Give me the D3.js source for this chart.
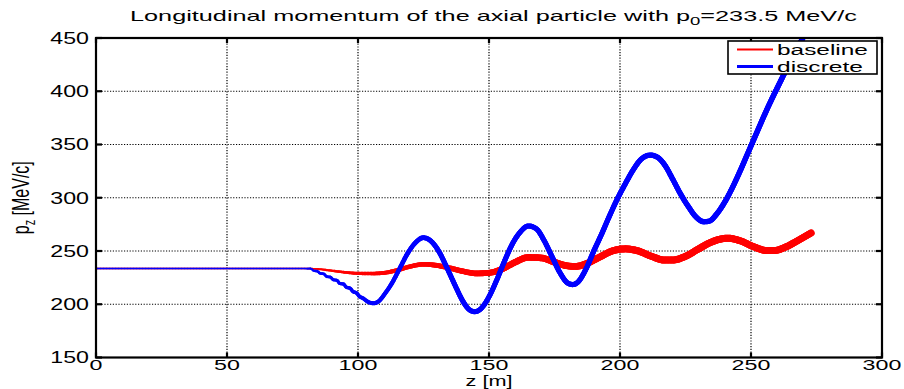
<!DOCTYPE html>
<html>
<head>
<meta charset="utf-8">
<script src="https://cdn.jsdelivr.net/npm/d3@7"></script>
<style>
  body { margin: 0; background: #fff; }
  text { font-family: "Liberation Sans", Arial, Helvetica, sans-serif; fill: #000; }
</style>
</head>
<body>
<svg id="chart" width="904" height="389"></svg>
<script>
// data: z [m] and p_z [MeV/c]
const baselineZ = [0, 80, 85, 90, 95, 100, 105, 110, 115, 120, 125, 130, 135, 140, 145, 150, 155, 160, 165, 170,
  175, 180, 183, 187, 192, 197, 202, 207, 212, 217, 220, 225, 230, 235, 241, 246, 251, 256, 259, 263, 268, 273];
const baselineP = [233.5, 233.5, 233, 231.5, 230, 229, 228.8, 229.5, 232, 235.5, 237.5, 236.5, 234, 231, 229, 229.5, 233, 239.5, 244, 243.5,
  239.5, 236, 235.5, 238, 244, 250, 252, 250, 245, 241.5, 241.5, 245, 252, 258.5, 262, 259.5, 254, 250.5, 250.5, 253.5, 260, 267];

const discreteZ = [0, 80, 82, 83, 84.5, 85.5, 87, 88, 89.5, 90.5, 92, 93, 94.5, 95.5, 97, 98, 99.5, 100.5, 102, 104,
  106, 108, 110, 113, 116, 119, 122, 125, 128, 131, 134, 137, 140, 142, 144.5, 147, 150, 153, 156, 159,
  162, 165, 168, 171, 174, 177, 180, 182, 184, 187, 190, 193, 196, 199, 202, 205, 208, 211.5, 214, 217,
  220, 223, 226, 229, 232, 234, 237, 240, 243, 246, 249, 252, 255, 258, 261, 264, 267, 270, 273];
const discreteP = [233.5, 233.5, 233.5, 231.5, 231, 229, 228.5, 226, 225.5, 223, 222.5, 219.5, 219, 216, 215, 212, 210.5, 207.5, 205.5, 202,
  201, 203, 209, 220, 234, 248, 258, 262.5, 259, 249, 234, 218, 203, 196, 193, 196, 207, 223, 241, 257,
  268, 273.5, 271, 260, 245, 230, 220, 218.5, 221, 233, 250, 266, 283, 299, 313, 326, 336, 340, 338.5, 331,
  318, 304, 292, 282, 277.5, 278, 285, 296, 310, 326, 343, 360, 377, 393, 408, 423, 437, 451, 465];

const xTicks = [0, 50, 100, 150, 200, 250, 300];
const yTicks = [150, 200, 250, 300, 350, 400, 450];
const seriesNames = ["baseline", "discrete"];
const seriesColors = ["#ff0000", "#0000ff"];

const svg = d3.select("#chart");
const x = d3.scaleLinear().domain([0, 300]).range([96, 882]);
const y = d3.scaleLinear().domain([150, 450]).range([357.5, 38]);
const textScale = 1.45; // the figure is stretched sideways

svg.append("rect").attr("width", 904).attr("height", 389).attr("fill", "#fff");

svg.append("defs").append("clipPath").attr("id", "plotclip")
  .append("rect").attr("x", x(0)).attr("y", y(450))
  .attr("width", x(300) - x(0)).attr("height", y(150) - y(450));

// dotted grid
const grid = svg.append("g");
grid.selectAll(".gx").data(xTicks.slice(1, -1)).join("line")
  .attr("x1", d => x(d)).attr("x2", d => x(d))
  .attr("y1", y(450)).attr("y2", y(150))
  .attr("stroke", "#000").attr("stroke-width", 1.2).attr("stroke-dasharray", "1.2,1.6");
grid.selectAll(".gy").data(yTicks.slice(1, -1)).join("line")
  .attr("x1", x(0)).attr("x2", x(300))
  .attr("y1", d => y(d)).attr("y2", d => y(d))
  .attr("stroke", "#000").attr("stroke-width", 1).attr("stroke-dasharray", "1.2,1.6");

// lines whose thickness grows along z
function drawVarLine(g, zs, ps, color, widthScale) {
  const pts = zs.map((z, i) => [z, ps[i]]);
  const line = d3.line().x(d => x(d[0])).y(d => y(d[1])).curve(d3.curveMonotoneX);
  const path = g.append("path").attr("d", line(pts)).attr("fill", "none").attr("stroke", "none");
  const node = path.node(), L = node.getTotalLength();
  const samples = d3.range(0, L, 1.5).concat([L]).map(l => node.getPointAtLength(l));
  g.append("g").selectAll("line").data(d3.pairs(samples)).join("line")
    .attr("x1", d => d[0].x).attr("y1", d => d[0].y)
    .attr("x2", d => d[1].x).attr("y2", d => d[1].y)
    .attr("stroke", color)
    .attr("stroke-linecap", "round")
    .attr("stroke-width", d => widthScale(x.invert((d[0].x + d[1].x) / 2)));
}

const plot = svg.append("g").attr("clip-path", "url(#plotclip)");
drawVarLine(plot, baselineZ, baselineP, seriesColors[0],
  d3.scaleLinear().domain([80, 110, 160, 200, 273]).range([1.5, 4, 6.5, 7, 7]).clamp(true));
drawVarLine(plot, discreteZ, discreteP, seriesColors[1],
  d3.scaleLinear().domain([0, 80, 85, 105, 130, 273]).range([1.6, 1.6, 2.6, 4, 5, 5.5]).clamp(true));

// axes box and inward ticks
const axes = svg.append("g").attr("stroke", "#000").attr("stroke-width", 2.2);
axes.append("rect").attr("x", x(0)).attr("y", y(450))
  .attr("width", x(300) - x(0)).attr("height", y(150) - y(450)).attr("fill", "none");
xTicks.forEach(t => {
  axes.append("line").attr("x1", x(t)).attr("x2", x(t)).attr("y1", y(150)).attr("y2", y(150) - 5);
  axes.append("line").attr("x1", x(t)).attr("x2", x(t)).attr("y1", y(450)).attr("y2", y(450) + 5);
});
yTicks.forEach(t => {
  axes.append("line").attr("x1", x(0)).attr("x2", x(0) + 6).attr("y1", y(t)).attr("y2", y(t));
  axes.append("line").attr("x1", x(300)).attr("x2", x(300) - 6).attr("y1", y(t)).attr("y2", y(t));
});

// tick labels
svg.append("g").selectAll("text").data(xTicks).join("text")
  .attr("transform", d => `translate(${x(d)},370) scale(1.55,1)`)
  .attr("text-anchor", "middle").attr("font-size", 15)
  .text(d => d);
svg.append("g").selectAll("text").data(yTicks).join("text")
  .attr("transform", d => `translate(89,${y(d) + 5.8}) scale(${textScale},1)`)
  .attr("text-anchor", "end").attr("font-size", 16)
  .text(d => d);

// axis labels
svg.append("text")
  .attr("transform", `translate(${(x(0) + x(300)) / 2},386) scale(1.55,1)`)
  .attr("text-anchor", "middle").attr("font-size", 14)
  .text("z [m]");
const ylab = svg.append("text")
  .attr("transform", `translate(29,${(y(150) + y(450)) / 2}) scale(${textScale},1) rotate(-90)`)
  .attr("text-anchor", "middle").attr("font-size", 16);
ylab.append("tspan").text("p");
ylab.append("tspan").attr("font-size", 11).attr("dy", 4).text("z");
ylab.append("tspan").attr("dy", -4).text(" [MeV/c]");

// title, fitted to the stretched width
const title = svg.append("text").attr("font-size", 15);
title.append("tspan").text("Longitudinal momentum of the axial particle with p");
title.append("tspan").attr("font-size", 11).attr("dy", 4).text("0");
title.append("tspan").attr("dy", -4).text("=233.5 MeV/c");
const tLen = title.node().getComputedTextLength();
title.attr("transform", `translate(130,21) scale(${727 / tLen},1)`);

// legend
const legend = svg.append("g");
legend.append("rect").attr("x", 728).attr("y", 41).attr("width", 149).attr("height", 33)
  .attr("fill", "#fff").attr("stroke", "#000").attr("stroke-width", 1.6);
const rowY = [49.5, 66.5];
seriesNames.forEach((name, i) => {
  legend.append("line").attr("x1", 737).attr("x2", 773).attr("y1", rowY[i]).attr("y2", rowY[i])
    .attr("stroke", seriesColors[i]).attr("stroke-width", i === 0 ? 2 : 3);
  const t = legend.append("text").attr("font-size", 15).text(name);
  const len = t.node().getComputedTextLength();
  t.attr("transform", `translate(777,${rowY[i] + 5}) scale(${(i === 0 ? 91 : 86) / len},1)`);
});
</script>
</body>
</html>
